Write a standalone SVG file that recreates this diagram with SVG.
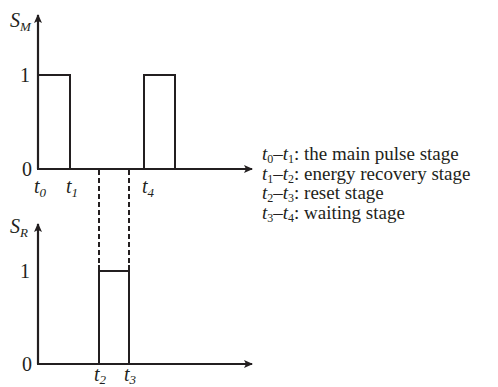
<svg xmlns="http://www.w3.org/2000/svg" width="498" height="387" viewBox="0 0 498 387">
<defs>
<marker id="arr" markerWidth="10" markerHeight="8" refX="8" refY="4" orient="auto" markerUnits="userSpaceOnUse">
<path d="M0,0 L9,4 L0,8 L2,4 Z" fill="#231f20"/>
</marker>
</defs>
<style>
.ax{stroke:#231f20;stroke-width:2.2;fill:none}
.sig{stroke:#231f20;stroke-width:2;fill:none}
.dash{stroke:#231f20;stroke-width:2;fill:none;stroke-dasharray:5,3}
.lbl{font-size:20px}
.it{font-style:italic}
.leg{font-size:19px}
</style>
<rect width="498" height="387" fill="#fff"/>
<g id="connectors">
<line class="dash" x1="99" y1="170" x2="99" y2="265"/>
<line class="dash" x1="129" y1="170" x2="129" y2="265"/>
</g>
<g id="plot-SM" font-family="'Liberation Serif', 'Times New Roman', serif" fill="#231f20">
<line class="ax" x1="38" y1="169" x2="38" y2="15" marker-end="url(#arr)"/>
<line class="ax" x1="37" y1="169" x2="252" y2="169" marker-end="url(#arr)"/>
<polyline class="sig" points="38,75 70,75 70,169"/>
<polyline class="sig" points="144,169 144,75 175,75 175,169"/>
<text class="lbl it" x="10" y="27">S<tspan font-size="13" dy="4">M</tspan></text>
<text class="lbl" x="20" y="82">1</text>
<text class="lbl" x="22" y="176">0</text>
<text class="lbl it" x="34" y="193">t<tspan font-size="13" dy="4">0</tspan></text>
<text class="lbl it" x="66" y="193">t<tspan font-size="13" dy="4">1</tspan></text>
<text class="lbl it" x="142" y="193">t<tspan font-size="13" dy="4">4</tspan></text>
</g>
<g id="plot-SR" font-family="'Liberation Serif', 'Times New Roman', serif" fill="#231f20">
<line class="ax" x1="38" y1="364" x2="38" y2="224" marker-end="url(#arr)"/>
<line class="ax" x1="37" y1="364" x2="252" y2="364" marker-end="url(#arr)"/>
<polyline class="sig" points="99,364 99,265"/>
<polyline class="sig" points="129,364 129,265"/>
<line class="sig" x1="99" y1="271" x2="129" y2="271"/>
<text class="lbl it" x="10" y="233">S<tspan font-size="13" dy="4">R</tspan></text>
<text class="lbl" x="20" y="278">1</text>
<text class="lbl" x="22" y="371">0</text>
<text class="lbl it" x="94" y="381">t<tspan font-size="13" dy="3">2</tspan></text>
<text class="lbl it" x="124" y="381">t<tspan font-size="13" dy="3">3</tspan></text>
</g>
<g id="legend" font-family="'Liberation Serif', 'Times New Roman', serif" fill="#231f20">
<text class="leg" x="262" y="160"><tspan class="it">t</tspan><tspan font-size="12" dy="3">0</tspan><tspan dy="-3">–</tspan><tspan class="it">t</tspan><tspan font-size="12" dy="3">1</tspan><tspan dy="-3">: the main pulse stage</tspan></text>
<text class="leg" x="262" y="179.5"><tspan class="it">t</tspan><tspan font-size="12" dy="3">1</tspan><tspan dy="-3">–</tspan><tspan class="it">t</tspan><tspan font-size="12" dy="3">2</tspan><tspan dy="-3">: energy recovery stage</tspan></text>
<text class="leg" x="262" y="199"><tspan class="it">t</tspan><tspan font-size="12" dy="3">2</tspan><tspan dy="-3">–</tspan><tspan class="it">t</tspan><tspan font-size="12" dy="3">3</tspan><tspan dy="-3">: reset stage</tspan></text>
<text class="leg" x="262" y="218.5"><tspan class="it">t</tspan><tspan font-size="12" dy="3">3</tspan><tspan dy="-3">–</tspan><tspan class="it">t</tspan><tspan font-size="12" dy="3">4</tspan><tspan dy="-3">: waiting stage</tspan></text>
</g>
</svg>
